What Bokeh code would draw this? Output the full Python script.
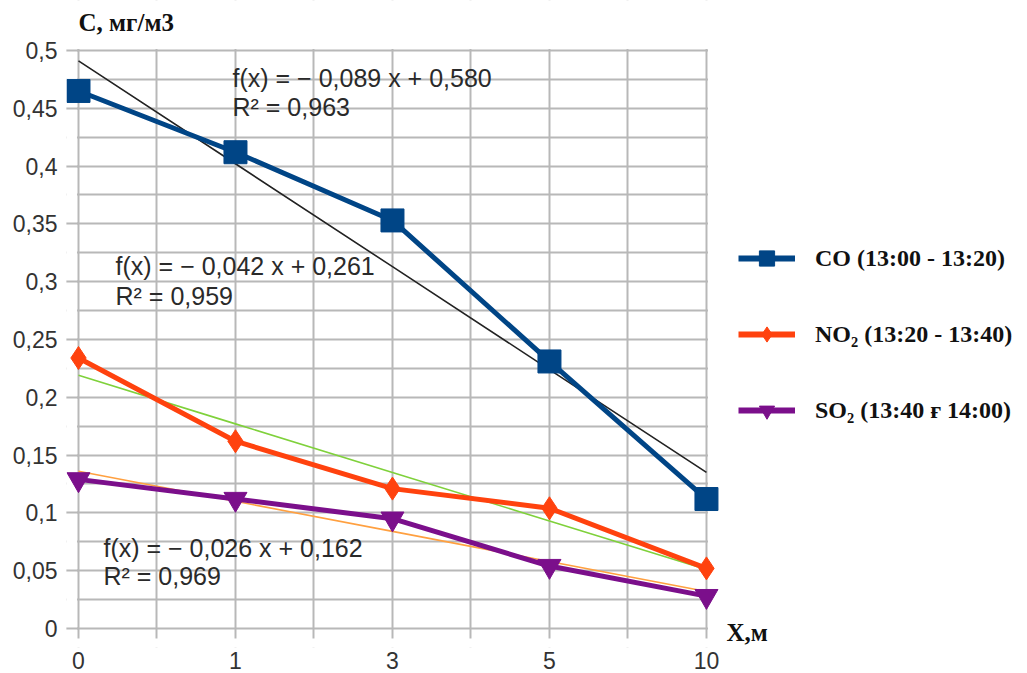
from bokeh.plotting import figure
from bokeh.models import (Range1d, FixedTicker, Label, Legend, LegendItem, BoxAnnotation)
from bokeh.embed import file_html
from bokeh.resources import INLINE

# ---- data ----
x_labels = ["0", "1", "3", "5", "10"]
co = [0.465, 0.412, 0.353, 0.231, 0.112]
no2 = [0.234, 0.162, 0.121, 0.104, 0.052]
so2 = [0.129, 0.112, 0.095, 0.054, 0.028]
series_names = ["CO (13:00 - 13:20)", "NO\u2082 (13:20 - 13:40)", "SO\u2082 (13:40 \u0493 14:00)"]
trend_slope = [-0.089, -0.042, -0.026]
trend_intercept = [0.580, 0.261, 0.162]
trend_eq = ["f(x) = \u2212 0,089 x + 0,580", "f(x) = \u2212 0,042 x + 0,261", "f(x) = \u2212 0,026 x + 0,162"]
trend_r2 = ["R\u00b2 = 0,963", "R\u00b2 = 0,959", "R\u00b2 = 0,969"]
y_ticks = [0, 0.05, 0.1, 0.15, 0.2, 0.25, 0.3, 0.35, 0.4, 0.45, 0.5]
y_tick_labels = ["0", "0,05", "0,1", "0,15", "0,2", "0,25", "0,3", "0,35", "0,4", "0,45", "0,5"]
y_minor = [0.025, 0.075, 0.125, 0.175, 0.225, 0.275, 0.325, 0.375, 0.425, 0.475]
y_title = "C, \u043c\u0433/\u043c3"
x_title = "X,\u043c"

colors = ["#004586", "#ff420e", "#7b0f8b"]
trend_colors = ["#222222", "#7fd13b", "#ffa040"]
markers = ["square", "diamond", "inverted_triangle"]
marker_sizes = [23, 23, 23]

xi = list(range(len(x_labels)))
GRID = "#b8b8b8"
NAN = float("nan")
# the frame covers the whole canvas right of the y axis; everything outside
# the plot area [0..4] x [0..0.5] is masked in white
X0, X1 = -0.0764, 6.045
Y0, Y1 = -0.01644, 0.54325

p = figure(width=1027, height=673, output_backend="svg", toolbar_location=None,
           title=None, x_range=Range1d(X0, X1), y_range=Range1d(Y0, Y1),
           min_border_left=66, min_border_right=0, min_border_top=0, min_border_bottom=26)
p.outline_line_color = None
p.background_fill_color = "white"
p.border_fill_color = "white"

p.xaxis.ticker = FixedTicker(ticks=xi, minor_ticks=[0.5, 1.5, 2.5, 3.5])
p.xaxis.major_label_overrides = {i: lab for i, lab in zip(xi, x_labels)}
p.yaxis.ticker = FixedTicker(ticks=y_ticks, minor_ticks=y_minor)
p.yaxis.major_label_overrides = {v: lab for v, lab in zip(y_ticks, y_tick_labels)}

for ax in (p.xaxis[0], p.yaxis[0]):
    ax.axis_line_color = None
    ax.major_tick_line_color = GRID
    ax.major_tick_line_width = 2
    ax.minor_tick_line_color = None
    ax.major_label_text_font = "Liberation Sans"
    ax.major_label_text_font_size = "23px"
    ax.major_label_text_color = "#333333"
p.xaxis.major_tick_out = 0
p.xaxis.major_tick_in = 0
p.xaxis.major_tick_line_color = None
p.xaxis.major_label_standoff = 0
p.yaxis.major_tick_out = 0
p.yaxis.major_tick_in = 12
p.yaxis.major_label_standoff = 5

for g in (p.xgrid[0], p.ygrid[0]):
    g.grid_line_color = GRID
    g.grid_line_width = 2
    g.minor_grid_line_color = GRID
    g.minor_grid_line_width = 2

# white masks around the plot area (hide grid stubs)
mask = dict(fill_color="white", fill_alpha=1, line_color=None, level="underlay")
p.add_layout(BoxAnnotation(right=-0.0096, **mask))
p.add_layout(BoxAnnotation(left=4.0096, **mask))
p.add_layout(BoxAnnotation(top=-0.00865, **mask))
p.add_layout(BoxAnnotation(bottom=0.5013, **mask))

# trend lines
for k in range(3):
    ty = [trend_slope[k] * (i + 1) + trend_intercept[k] for i in xi]
    p.line(xi, ty, line_color=trend_colors[k], line_width=1.6)

# series
items = []
for k, ys in enumerate([co, no2, so2]):
    p.line(xi, ys, line_color=colors[k], line_width=5)
    r2 = p.scatter(xi, ys, marker=markers[k], size=marker_sizes[k], fill_color=colors[k],
                   line_color=colors[k])
    # legend proxy with a thicker line
    l1 = p.line([NAN], [NAN], line_color=colors[k], line_width=6)
    items.append(LegendItem(label=series_names[k], renderers=[l1, r2]))

legend = Legend(items=items, location=(672, 218), border_line_color=None,
                background_fill_alpha=0, glyph_width=57, glyph_height=38,
                label_standoff=20, spacing=38, padding=0, margin=0,
                label_text_font="Liberation Serif", label_text_font_style="bold",
                label_text_font_size="24px", label_text_color="#111111")
p.add_layout(legend, "center")

# equation labels
eq_pos = [(0.981, 0.4758, 0.4507), (0.236, 0.314, 0.288), (0.159, 0.070, 0.0458)]
for k in range(3):
    x0, y1, y2 = eq_pos[k]
    for txt, yy in ((trend_eq[k], y1), (trend_r2[k], y2)):
        p.add_layout(Label(x=x0, y=yy, text=txt, text_baseline="middle", text_align="left",
                           text_font="Liberation Sans", text_font_size="25px",
                           text_color="#2a2a2a"))

# axis titles
bold = dict(text_baseline="middle", text_align="left", text_font="Liberation Serif",
            text_font_style="bold", text_font_size="25px", text_color="#111111")
p.add_layout(Label(x=0, y=0.5242, text=y_title, **bold))
p.add_layout(Label(x=4.127, y=-0.0035, text=x_title, **bold))

open("out.html", "w").write(file_html(p, INLINE))
